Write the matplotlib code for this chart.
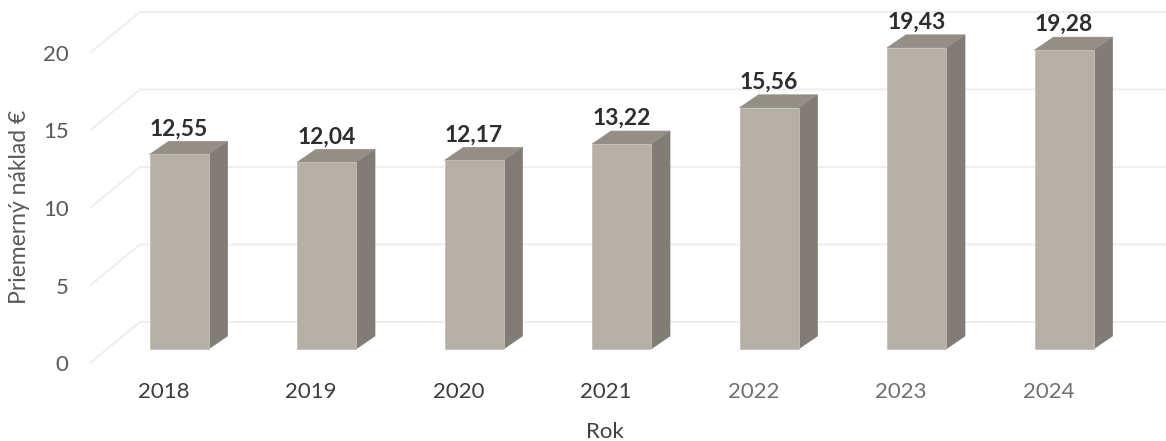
import matplotlib
matplotlib.use("Agg")
import matplotlib.pyplot as plt
from matplotlib.patches import Polygon, Rectangle

# ---- data ----
years = ["2018", "2019", "2020", "2021", "2022", "2023", "2024"]
values = [12.55, 12.04, 12.17, 13.22, 15.56, 19.43, 19.28]
value_labels = ["12,55", "12,04", "12,17", "13,22", "15,56", "19,43", "19,28"]
yticks = [0, 5, 10, 15, 20]
year_colors = ["#3c3c3c", "#3c3c3c", "#3c3c3c", "#3c3c3c", "#707070", "#707070", "#707070"]

plt.rcParams['font.family'] = ['Lato', 'DejaVu Sans']

W, H = 1166, 441
fig = plt.figure(figsize=(W / 100, H / 100), dpi=100)
fig.patch.set_facecolor("white")

# axes placement (pixel based)
L, R, B, T = 75, 1160, 370, 0
ax = fig.add_axes([L / W, (H - B) / H, (R - L) / W, (B - T) / H])
pxx = 147.5   # px per category
pxy = 15.5    # px per value unit
x0px = 179    # centre of first bar
y0px = 349    # front base line
ax.set_xlim((L - x0px) / pxx, (R - x0px) / pxx)
ax.set_ylim(-(B - y0px) / pxy, (y0px - T) / pxy)
for s in ax.spines.values():
    s.set_visible(False)
ax.set_facecolor("none")

# 3D offsets (data units)
bw = 59 / pxx            # front width
ddx, ddy = 19 / pxx, 13 / pxy   # bar depth
tick_off = -14 / pxy     # tick label plane
back_dy = 27 / pxy       # back wall
gx_left = (90 - x0px) / pxx
gx_back = (140 - x0px) / pxx
xmax = (R - x0px) / pxx + 0.1

# gridlines (left side wall + back wall)
for v in yticks:
    ax.plot([gx_left, gx_back, xmax], [v + tick_off, v + back_dy, v + back_dy],
            color="#efefef", lw=1.5, zorder=1, clip_on=False, solid_capstyle="butt")

front_c, top_c, side_c = "#b4b0a5", "#938e86", "#817d76"
for i, v in enumerate(values):
    xl, xr = i - bw / 2, i + bw / 2
    ax.add_patch(Polygon([(xr, 0), (xr + ddx, ddy), (xr + ddx, v + ddy), (xr, v)],
                         closed=True, facecolor=side_c, edgecolor=side_c, lw=0.5, zorder=3))
    ax.add_patch(Polygon([(xl, v), (xr, v), (xr + ddx, v + ddy), (xl + ddx, v + ddy)],
                         closed=True, facecolor=top_c, edgecolor=top_c, lw=0.5, zorder=3))
    ax.add_patch(Rectangle((xl, 0), bw, v, facecolor=front_c, edgecolor="#c4c0b6",
                           lw=0.6, zorder=4))
    ax.annotate(value_labels[i], xy=(i, v + ddy), xytext=(0, 1.5), textcoords="offset points",
                ha="center", va="bottom", fontsize=16.5, fontweight="bold",
                color="#2e2e2e", zorder=5)

# ticks
ax.set_yticks([v + tick_off for v in yticks])
ax.set_yticklabels([str(v) for v in yticks])
ax.tick_params(axis="y", length=0, pad=4.5, labelsize=16, labelcolor="#595959")
ax.set_xticks([i - 0.105 for i in range(len(years))])
ax.set_xticklabels(years)
ax.tick_params(axis="x", length=0, pad=9, labelsize=16)
for lab, c in zip(ax.get_xticklabels(), year_colors):
    lab.set_color(c)

ax.set_ylabel("Priemerný náklad €", fontsize=16.5, color="#595959", va="center")
ax.yaxis.set_label_coords((20 - L) / (R - L), (B - 207) / (B - T))
ax.set_xlabel("Rok", fontsize=16, color="#404040", va="center")
ax.xaxis.set_label_coords((605 - L) / (R - L), (B - 432) / (B - T))

fig.savefig("out.png", dpi=100)
